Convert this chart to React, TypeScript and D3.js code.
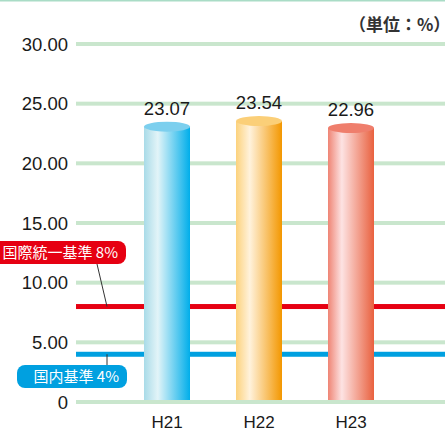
import React, { useRef, useEffect } from "react";
import * as d3 from "d3";

const categories = ["H21", "H22", "H23"];
const values = [23.07, 23.54, 22.96];
const yTicks = [0, 5, 10, 15, 20, 25, 30];
const refLines = [
  { value: 8, label: "国際統一基準 8%" },
  { value: 4, label: "国内基準 4%" },
];
const barColors = [
  { left: "#a9dbe8", mid: "#e2f4f8", right: "#00aeea", top: "#7ccfee" },
  { left: "#fcd27c", mid: "#fff2dc", right: "#f39700", top: "#fbcf78" },
  { left: "#ef8474", mid: "#fde3e3", right: "#e9613f", top: "#ef7e6c" },
];

const W = 445;
const H = 432;

const App: React.FC = () => {
  const svgRef = useRef<SVGSVGElement | null>(null);

  useEffect(() => {
    if (!svgRef.current) return;
    const svg = d3.select(svgRef.current);
    svg.selectAll("*").remove();

    const font = "'Liberation Sans', Arial, sans-serif";
    const jpFont = "'Noto Sans CJK JP', sans-serif";
    const plotLeft = 76;
    const plotRight = W;

    const y = d3.scaleLinear().domain([0, 30]).range([402, 44]);
    const x = d3
      .scaleBand()
      .domain(categories)
      .range([121, 397])
      .paddingInner(0.5)
      .paddingOuter(0.25);

    const defs = svg.append("defs");
    barColors.forEach((c, i) => {
      const g = defs
        .append("linearGradient")
        .attr("id", `bar-grad-${i}`)
        .attr("x1", "0%")
        .attr("x2", "100%");
      g.append("stop").attr("offset", "0%").attr("stop-color", c.left);
      g.append("stop").attr("offset", "30%").attr("stop-color", c.mid);
      g.append("stop").attr("offset", "100%").attr("stop-color", c.right);
    });

    // top border
    svg
      .append("rect")
      .attr("x", 0)
      .attr("y", 0)
      .attr("width", W)
      .attr("height", 1.5)
      .attr("fill", "#a9dcc6");

    // gridlines
    svg
      .append("g")
      .selectAll("rect")
      .data(yTicks)
      .enter()
      .append("rect")
      .attr("x", plotLeft)
      .attr("y", (d) => y(d) - 2)
      .attr("width", plotRight - plotLeft)
      .attr("height", 4)
      .attr("fill", "#c9e6cd");

    // y tick labels
    svg
      .append("g")
      .selectAll("text")
      .data(yTicks)
      .enter()
      .append("text")
      .attr("x", 68)
      .attr("y", (d) => y(d) + 6.5)
      .attr("text-anchor", "end")
      .attr("font-family", font)
      .attr("font-size", 18.5)
      .attr("fill", "#1a1a1a")
      .text((d) => (d === 0 ? "0" : d.toFixed(2)));

    // unit label
    svg
      .append("text")
      .attr("x", 349)
      .attr("y", 31)
      .attr("font-family", jpFont)
      .attr("font-size", 17)
      .attr("font-weight", "bold")
      .attr("fill", "#333")
      .text("（単位：%）");

    // reference lines
    const refColors = ["#e60012", "#00a0e0"];
    refLines.forEach((r, i) => {
      svg
        .append("rect")
        .attr("x", plotLeft)
        .attr("y", y(r.value) - 2.5)
        .attr("width", plotRight - plotLeft)
        .attr("height", 5)
        .attr("fill", refColors[i]);
    });

    // bars (cylinders)
    const bw = x.bandwidth();
    const ry = 5;
    const bars = svg.append("g");
    categories.forEach((cat, i) => {
      const bx = x(cat)!;
      const top = y(values[i]);
      bars
        .append("rect")
        .attr("x", bx)
        .attr("y", top)
        .attr("width", bw)
        .attr("height", y(0) - 2 - top)
        .attr("fill", `url(#bar-grad-${i})`);
      bars
        .append("ellipse")
        .attr("cx", bx + bw / 2)
        .attr("cy", top)
        .attr("rx", bw / 2)
        .attr("ry", ry)
        .attr("fill", barColors[i].top);
      bars
        .append("text")
        .attr("x", bx + bw / 2)
        .attr("y", top - 12)
        .attr("text-anchor", "middle")
        .attr("font-family", font)
        .attr("font-size", 18.5)
        .attr("fill", "#1a1a1a")
        .text(values[i].toFixed(2));
      bars
        .append("text")
        .attr("x", bx + bw / 2)
        .attr("y", 428)
        .attr("text-anchor", "middle")
        .attr("font-family", font)
        .attr("font-size", 17)
        .attr("fill", "#1a1a1a")
        .text(cat);
    });

    // reference labels with leaders
    const labelBoxes = [
      { x: -20, y: 241, w: 146, leaderFrom: [97, 264] },
      { x: 17, y: 365, w: 110, leaderFrom: [107, 365] },
    ];
    refLines.forEach((r, i) => {
      const b = labelBoxes[i];
      const ly = y(r.value);
      svg
        .append("line")
        .attr("x1", b.leaderFrom[0])
        .attr("y1", b.leaderFrom[1])
        .attr("x2", 107)
        .attr("y2", ly)
        .attr("stroke", "#333")
        .attr("stroke-width", 1);
      svg
        .append("rect")
        .attr("x", b.x)
        .attr("y", b.y)
        .attr("width", b.w)
        .attr("height", 23)
        .attr("rx", 8)
        .attr("fill", refColors[i]);
      svg
        .append("text")
        .attr("x", b.x + b.w - 8)
        .attr("y", b.y + 17)
        .attr("text-anchor", "end")
        .attr("font-family", jpFont)
        .attr("font-size", 15)
        .attr("fill", "#fff")
        .text(r.label);
    });
  }, []);

  return (
    <svg
      ref={svgRef}
      width={W}
      height={H}
      style={{ position: "absolute", left: 0, top: 0, background: "#fff" }}
    ></svg>
  );
};

export default App;
